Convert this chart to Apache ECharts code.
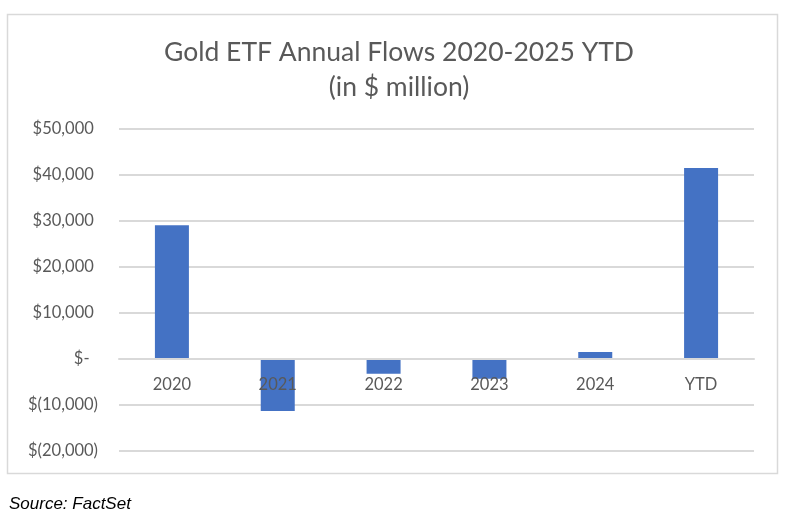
<!DOCTYPE html>
<html><head><meta charset="utf-8">
<script src="https://cdn.jsdelivr.net/npm/echarts@6/dist/echarts.min.js"></script>
<style>html,body{margin:0;padding:0;background:#fff}#c{width:789px;height:519px}</style>
</head><body><div id="c"></div>
<script>
const categories = ['2020', '2021', '2022', '2023', '2024', 'YTD'];
const flows = [29100, -11300, -3200, -4300, 1500, 41500];
const titleLines = ['Gold ETF Annual Flows 2020-2025 YTD', '(in $ million)'];
const sourceText = 'Source: FactSet';
const yMin = -20000, yMax = 50000, yStep = 10000;

function acct(v) {
  if (v === 0) return '$-  ';
  const s = Math.abs(v).toLocaleString('en-US');
  return v < 0 ? '$(' + s + ')' : '$' + s + ' ';
}

const gridTop = 129, gridBottom = 68, H = 519;
const plotH = H - gridTop - gridBottom;
const zeroOffset = -plotH * (0 - yMin) / (yMax - yMin);

const chart = echarts.init(document.getElementById('c'), null, {renderer: 'canvas'});
chart.setOption({
  animation: false,
  title: {
    text: titleLines.join('\n'),
    left: 394, top: 30, textAlign: 'center',
    textStyle: {fontFamily: 'Lato', fontSize: 26.5, fontWeight: 'normal', color: '#595959', lineHeight: 35}
  },
  graphic: [
    {type: 'rect', shape: {x: 7.5, y: 14.5, width: 770, height: 459}, style: {fill: 'none', stroke: '#d9d9d9', lineWidth: 1.5}, z: -1},
    {type: 'text', left: 9, top: 496, style: {text: sourceText, font: 'italic 17px "Liberation Sans", Arial', fill: '#000'}}
  ],
  grid: {left: 119, right: 35, top: gridTop, bottom: gridBottom, containLabel: false},
  xAxis: {
    type: 'category', data: categories,
    offset: zeroOffset, z: 10,
    axisLine: {show: true, onZero: false, lineStyle: {color: '#d9d9d9', width: 2}},
    axisTick: {show: false},
    axisLabel: {margin: 17, fontFamily: 'Lato', fontSize: 16.5, color: '#595959'}
  },
  yAxis: {
    type: 'value', min: yMin, max: yMax, interval: yStep,
    axisLine: {show: false}, axisTick: {show: false},
    splitLine: {lineStyle: {color: '#d9d9d9', width: 2}},
    axisLabel: {margin: 21, fontFamily: 'Lato', fontSize: 16.5, color: '#595959', formatter: acct}
  },
  series: [{
    type: 'bar', data: flows, barWidth: 34, z: 2,
    itemStyle: {color: '#4472c4'}
  }]
});
</script></body></html>
